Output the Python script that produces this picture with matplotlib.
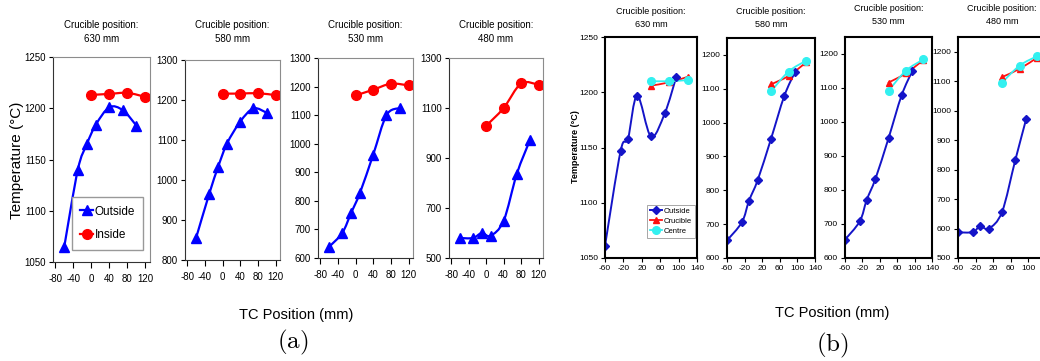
import numpy as np
import matplotlib
matplotlib.use('Agg')
import matplotlib.pyplot as plt
from matplotlib.path import Path
from matplotlib.patches import PathPatch
from matplotlib.lines import Line2D

plt.rcParams['font.family'] = ['Liberation Sans', 'DejaVu Sans']
plt.rcParams['axes.unicode_minus'] = False
plt.rcParams['mathtext.fontset'] = 'cm'

# ---- (a) measured temperatures ----
a_titles = ['630 mm', '580 mm', '530 mm', '480 mm']
a_out_x = [-60, -30, -10, 10, 40, 70, 100]
a_in_x = [0, 40, 80, 120]
a_out = [
    [1065, 1140, 1165, 1184, 1201, 1198, 1183],
    [855, 966, 1033, 1091, 1146, 1179, 1168],
    [639, 688, 758, 828, 962, 1100, 1125],
    [580, 580, 600, 589, 649, 836, 971],
]
a_in = [
    [1213, 1214, 1215, 1211],
    [1216, 1216, 1217, 1212],
    [1169, 1189, 1210, 1204],
    [1029, 1100, 1198, 1193],
]
a_ylims = [(1050, 1250), (800, 1300), (600, 1300), (500, 1300)]
a_ysteps = [50, 100, 100, 200]

# ---- (b) simulated temperatures ----
b_titles = ['630 mm', '580 mm', '530 mm', '480 mm']
b_out_x = [-60, -26, -10, 10, 40, 70, 95]
b_cr_x = [40, 80, 120]
b_out = [
    [1061, 1147, 1158, 1197, 1160, 1181, 1214],
    [652, 706, 769, 831, 952, 1078, 1151],
    [654, 708, 771, 833, 952, 1078, 1151],
    [587, 588, 608, 600, 656, 831, 972],
]
b_cru = [
    [1206, 1209, 1214],
    [1113, 1138, 1178],
    [1116, 1143, 1182],
    [1114, 1142, 1180],
]
b_cen = [
    [1210, 1210, 1211],
    [1092, 1151, 1183],
    [1092, 1151, 1184],
    [1095, 1153, 1185],
]
b_ylims = [(1050, 1250), (600, 1250), (600, 1250), (500, 1250)]
b_yticks = [np.arange(1050, 1251, 50), np.arange(600, 1201, 100),
            np.arange(600, 1201, 100), np.arange(500, 1201, 100)]


def smooth(ax, x, y, color, lw):
    # excel style smoothed line (catmull-rom as bezier)
    p = np.column_stack([x, y]).astype(float)
    n = len(p)
    verts = [p[0]]
    codes = [Path.MOVETO]
    for i in range(n - 1):
        p0 = p[i - 1] if i > 0 else p[i]
        p3 = p[i + 2] if i + 2 < n else p[i + 1]
        c1 = p[i] + (p[i + 1] - p0) / 6.0
        c2 = p[i + 1] - (p3 - p[i]) / 6.0
        verts += [c1, c2, p[i + 1]]
        codes += [Path.CURVE4] * 3
    ax.add_patch(PathPatch(Path(verts, codes), fill=False, edgecolor=color,
                           lw=lw, capstyle='round', joinstyle='round'))


W, H = 1040, 361
def box(l, r, t, b):
    return [l / W, 1 - b / H, (r - l) / W, (b - t) / H]

a_boxes = [(53, 150, 57, 262), (185, 280, 60, 260), (318, 413, 58, 258), (449, 543, 58, 258)]
b_boxes = [(605, 697, 37, 258), (727, 815, 38, 258), (845, 932, 37, 258), (958, 1046, 37, 258)]
b_title_y = [18, 18, 15, 15]

fig = plt.figure(figsize=(10.4, 3.61), dpi=100)

blue_a = '#0000ff'
red_a = '#ff0000'
for i in range(4):
    ax = fig.add_axes(box(*a_boxes[i]))
    smooth(ax, a_out_x, a_out[i], blue_a, 1.6)
    smooth(ax, a_in_x, a_in[i], red_a, 1.6)
    ax.plot(a_out_x, a_out[i], ls='none', marker='^', ms=7, color=blue_a)
    ax.plot(a_in_x, a_in[i], ls='none', marker='o', ms=7, color=red_a)
    ax.set_xlim(-85, 130)
    ax.set_ylim(*a_ylims[i])
    ax.set_xticks([-80, -40, 0, 40, 80, 120])
    lo, hi = a_ylims[i]
    ax.set_yticks(np.arange(lo, hi + 1, a_ysteps[i]))
    ax.tick_params(axis='x', direction='out', length=4, width=0.8, labelsize=7, pad=5)
    ax.tick_params(axis='y', direction='out', length=3, width=0.8, labelsize=7, pad=2)
    for s in ['top', 'right']:
        ax.spines[s].set_color('#8c8c8c')
    for s in ['left', 'bottom']:
        ax.spines[s].set_color('#333333')
    l, r, t, b = a_boxes[i]
    fig.text((l + r) / 2 / W, 1 - 32 / H, 'Crucible position:\n' + a_titles[i],
             ha='center', va='center', fontsize=7, linespacing=1.6)
    if i == 0:
        hl = [Line2D([], [], color=blue_a, lw=1.6, marker='^', ms=7),
              Line2D([], [], color=red_a, lw=1.6, marker='o', ms=7)]
        leg = ax.legend(hl, ['Outside', 'Inside'], loc='lower right',
                        bbox_to_anchor=(0.93, 0.06), fontsize=8.5, fancybox=False,
                        handlelength=1.1, handletextpad=0.1, borderpad=0.7,
                        borderaxespad=0, labelspacing=1.0, framealpha=1)
        leg.get_frame().set_edgecolor('#999999')

blue_b = '#1414c8'
red_b = '#ff1010'
cyan_b = '#33f0f0'
for i in range(4):
    ax = fig.add_axes(box(*b_boxes[i]))
    smooth(ax, b_out_x, b_out[i], blue_b, 1.4)
    smooth(ax, b_cr_x, b_cru[i], red_b, 1.3)
    smooth(ax, b_cr_x, b_cen[i], cyan_b, 1.3)
    ax.plot(b_out_x, b_out[i], ls='none', marker='D', ms=4, color=blue_b)
    ax.plot(b_cr_x, b_cru[i], ls='none', marker='^', ms=5, color=red_b)
    ax.plot(b_cr_x, b_cen[i], ls='none', marker='o', ms=5.5, color=cyan_b)
    ax.set_xlim(-60, 140)
    ax.set_ylim(*b_ylims[i])
    ax.set_xticks([-60, -20, 20, 60, 100, 140])
    ax.set_yticks(b_yticks[i])
    ax.tick_params(direction='out', length=3, width=0.8, labelsize=6, pad=2)
    for s in ax.spines.values():
        s.set_linewidth(1.5)
    l, r, t, b = b_boxes[i]
    fig.text((l + r) / 2 / W, 1 - b_title_y[i] / H, 'Crucible position:\n' + b_titles[i],
             ha='center', va='center', fontsize=6.5, linespacing=1.5)
    if i == 0:
        hl = [Line2D([], [], color=blue_b, lw=1.4, marker='D', ms=4),
              Line2D([], [], color=red_b, lw=1.3, marker='^', ms=5),
              Line2D([], [], color=cyan_b, lw=1.3, marker='o', ms=5.5)]
        leg = ax.legend(hl, ['Outside', 'Crucible', 'Centre'], loc='lower right',
                        bbox_to_anchor=(0.98, 0.09), fontsize=5.5, fancybox=False,
                        handlelength=1.6, handletextpad=0.2, borderpad=0.4,
                        borderaxespad=0, labelspacing=0.35, framealpha=1)
        leg.get_frame().set_edgecolor('#999999')
        leg.get_frame().set_linewidth(0.6)

fig.text(17 / W, 1 - 160 / H, 'Temperature (\u00b0C)', rotation=90, ha='center', va='center',
         fontsize=11)
fig.text(575 / W, 1 - 147 / H, 'Temperature (\u00b0C)', rotation=90, ha='center', va='center',
         fontsize=6.5, fontweight='bold')
fig.text(296 / W, 1 - 315 / H, 'TC Position (mm)', ha='center', va='center', fontsize=10.5)
fig.text(832 / W, 1 - 313 / H, 'TC Position (mm)', ha='center', va='center', fontsize=10.5)
fig.text(293 / W, 1 - 342 / H, r'$\mathrm{(a)}$', ha='center', va='center', fontsize=18)
fig.text(832 / W, 1 - 345 / H, r'$\mathrm{(b)}$', ha='center', va='center', fontsize=18)

fig.savefig('out.png', dpi=100)
